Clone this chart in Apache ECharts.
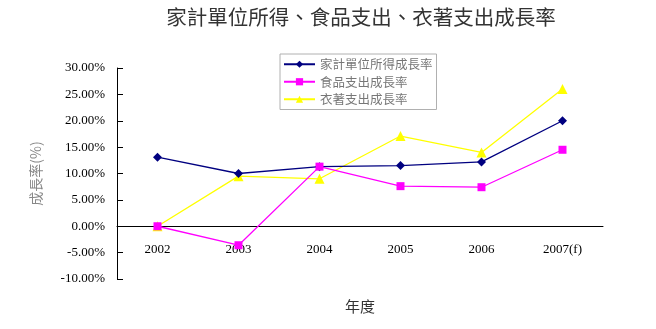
<!DOCTYPE html>
<html>
<head>
<meta charset="utf-8">
<script src="https://cdn.jsdelivr.net/npm/echarts@6/dist/echarts.min.js"></script>
<style>
  html, body { margin: 0; padding: 0; background: #fff; }
  #chart { width: 656px; height: 329px; }
</style>
</head>
<body>
<div id="chart"></div>
<script>
// 年度
const years = ['2002', '2003', '2004', '2005', '2006', '2007(f)'];
// 成長率 (%)
const incomeGrowth = [13.1, 10.0, 11.3, 11.5, 12.2, 20.0];
const foodGrowth = [0.0, -3.6, 11.3, 7.6, 7.4, 14.5];
const clothingGrowth = [0.0, 9.5, 9.0, 17.1, 14.0, 26.0];
const seriesNames = ['家計單位所得成長率', '食品支出成長率', '衣著支出成長率'];
const yTicks = { min: -10, max: 30, step: 5 };

const cjk = '"Noto Sans CJK TC", "Noto Sans CJK SC", sans-serif';
const serif = '"Liberation Serif", "DejaVu Serif", serif';

const chart = echarts.init(document.getElementById('chart'), null, { renderer: 'canvas' });

chart.setOption({
  animation: false,
  backgroundColor: '#fff',
  title: {
    text: '家計單位所得、食品支出、衣著支出成長率',
    left: 356,
    textAlign: 'center',
    top: 2,
    textStyle: { fontFamily: cjk, fontSize: 20.5, fontWeight: 'normal', color: '#333' }
  },
  legend: {
    orient: 'vertical',
    left: 280,
    top: 54,
    padding: [4, 4, 4, 3],
    itemGap: 5,
    itemWidth: 31,
    itemHeight: 9,
    backgroundColor: '#fff',
    borderColor: '#b0b0b0',
    borderWidth: 1,
    borderRadius: 0,
    textStyle: { fontFamily: cjk, fontSize: 12.5, color: '#777' },
    data: seriesNames
  },
  grid: { left: 117, right: 53, top: 68, bottom: 50, outerBoundsMode: 'none', containLabel: false },
  xAxis: {
    type: 'category',
    data: years,
    boundaryGap: true,
    name: '年度',
    nameLocation: 'middle',
    nameGap: 20,
    nameTextStyle: { fontFamily: cjk, fontSize: 15, color: '#333' },
    axisLine: { onZero: true, lineStyle: { color: '#000', width: 1 } },
    axisTick: { inside: true, length: 5, lineStyle: { color: '#000' } },
    // labels sit just under the zero line, inside the plot area
    axisLabel: { fontFamily: serif, fontSize: 13, color: '#000', margin: -36 },
    splitLine: { show: false }
  },
  yAxis: {
    type: 'value',
    min: yTicks.min,
    max: yTicks.max,
    interval: yTicks.step,
    name: '成長率(%)',
    nameLocation: 'middle',
    nameRotate: 90,
    nameGap: 74,
    nameTextStyle: { fontFamily: cjk, fontSize: 14, color: '#888' },
    axisLine: { show: true, lineStyle: { color: '#000', width: 1 } },
    axisTick: { show: true, inside: true, length: 6, lineStyle: { color: '#000' } },
    axisLabel: {
      fontFamily: serif, fontSize: 13, color: '#000', margin: 12,
      formatter: v => v.toFixed(2) + '%'
    },
    splitLine: { show: false }
  },
  series: [
    {
      name: seriesNames[0], type: 'line', data: incomeGrowth,
      symbol: 'diamond', symbolSize: 9, z: 3,
      lineStyle: { color: '#000080', width: 1.3 },
      itemStyle: { color: '#000080' }
    },
    {
      name: seriesNames[1], type: 'line', data: foodGrowth,
      symbol: 'rect', symbolSize: 8, z: 4,
      lineStyle: { color: '#ff00ff', width: 1.3 },
      itemStyle: { color: '#ff00ff' }
    },
    {
      name: seriesNames[2], type: 'line', data: clothingGrowth,
      symbol: 'triangle', symbolSize: 10, z: 2,
      lineStyle: { color: '#ffff00', width: 1.3 },
      itemStyle: { color: '#ffff00' }
    }
  ]
});
</script>
</body>
</html>
